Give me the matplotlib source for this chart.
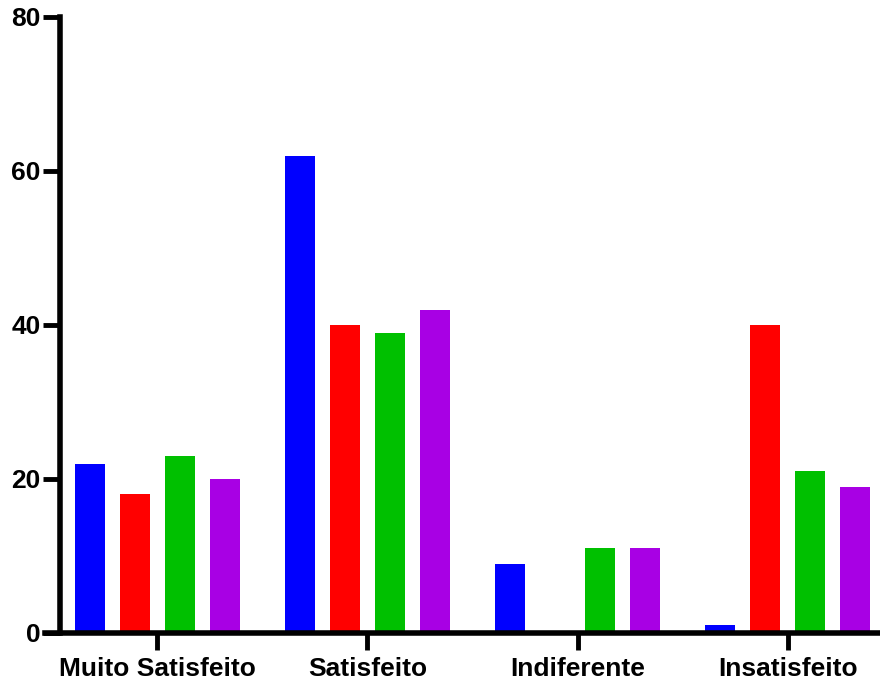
import matplotlib
matplotlib.use("Agg")
import matplotlib.pyplot as plt
import numpy as np

# dados
categorias = ["Muito Satisfeito", "Satisfeito", "Indiferente", "Insatisfeito"]
serie_azul = [22, 62, 9, 1]
serie_vermelha = [18, 40, 0, 40]
serie_verde = [23, 39, 11, 21]
serie_roxa = [20, 42, 11, 19]
y_ticks = [0, 20, 40, 60, 80]

series = [serie_azul, serie_vermelha, serie_verde, serie_roxa]
cores = ["#0000FF", "#FF0000", "#00C000", "#A800E4"]

plt.rcParams['font.family'] = ['Liberation Sans', 'DejaVu Sans']

fig = plt.figure(figsize=(8.8, 6.84), dpi=100)
ax = fig.add_axes([60 / 880, 51 / 684, 820 / 880, 616 / 684])

x = np.arange(len(categorias))
largura = 30 / 210
passo = 45 / 210
for i, (valores, cor) in enumerate(zip(series, cores)):
    ax.bar(x + (i - 1.5) * passo, valores, width=largura, color=cor)

ax.set_xlim(-97 / 210, 3 + 92 / 210)
ax.set_ylim(0, 80)
ax.set_yticks(y_ticks)
ax.set_xticks(x)
ax.set_xticklabels(categorias)

for s in ["top", "right"]:
    ax.spines[s].set_visible(False)
for s in ["left", "bottom"]:
    ax.spines[s].set_linewidth(4)
ax.spines["bottom"].set_bounds(-112 / 210, 3 + 92 / 210)
ax.tick_params(axis="both", direction="out", length=12, width=3.5,
               labelsize=19, pad=2)
ax.tick_params(axis="x", pad=5)
for lbl in ax.get_xticklabels() + ax.get_yticklabels():
    lbl.set_fontweight("bold")

fig.savefig("out.png", dpi=100)
